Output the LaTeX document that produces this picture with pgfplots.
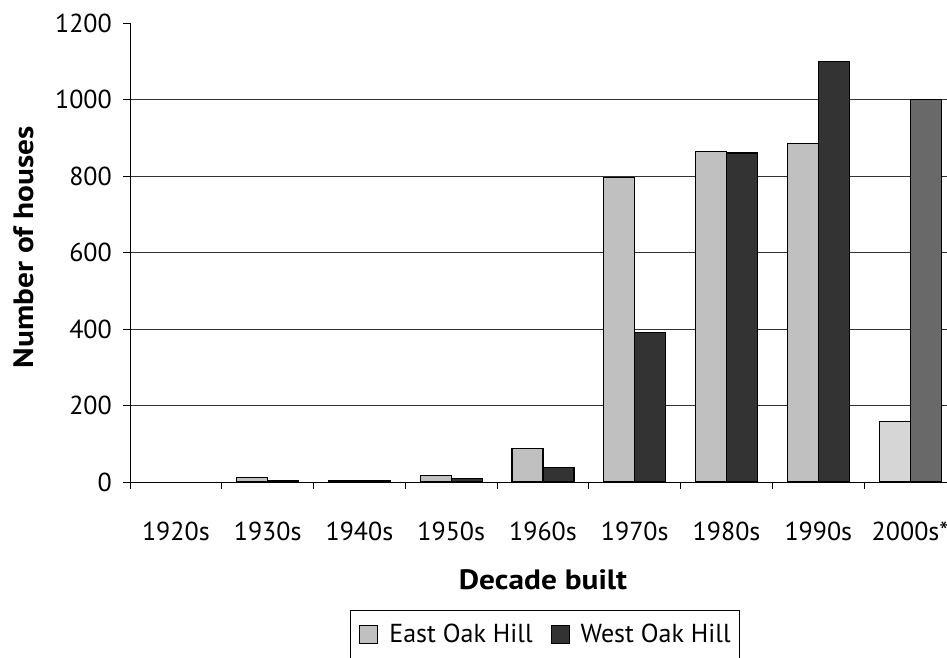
\documentclass[border=0pt]{standalone}
\usepackage{pgfplots}
\pgfplotsset{compat=1.18}
\usepackage{fontspec}
\setmainfont{PT Sans}
\newfontfamily\boldwide[FakeStretch=1.12]{PT Sans Bold}
\definecolor{eastc}{RGB}{192,192,192}
\definecolor{westc}{RGB}{51,51,51}
\definecolor{eastn}{RGB}{214,214,214}
\definecolor{westn}{RGB}{105,105,105}
\begin{document}
\begin{tikzpicture}[x=1pt,y=1pt]
\begin{axis}[
  at={(130pt,176pt)}, anchor=south west,
  scale only axis, width=826pt, height=459pt,
  xmin=-0.5, xmax=8.5, ymin=0, ymax=1200,
  axis x line*=bottom, axis y line*=left,
  axis line style={black, line width=0.8pt},
  ytick={0,200,...,1000},
  extra y ticks={1200}, extra y tick style={grid=none},
  ymajorgrids, major grid style={black!80, line width=0.7pt},
  tick align=outside, major tick length=7pt,
  tick style={black, line width=0.8pt},
  xtick={-0.5,0.5,...,8.5},
  x tick label as interval,
  xticklabels={1920s,1930s,1940s,1950s,1960s,1970s,1980s,1990s,2000s*},
  xticklabel style={anchor=base, yshift=-51pt},
  yticklabel style={anchor=east, inner sep=0pt, xshift=-11pt},
  tick label style={font=\fontsize{26}{30}\selectfont},
  /pgf/number format/assume math mode=true,
  /pgf/number format/1000 sep={},
  ybar=0pt, bar width=0.338,
  legend style={at={(0.2663,-0.2789)}, anchor=north west, draw=black,
    line width=0.8pt, font=\fontsize{26}{30}\selectfont,
    inner xsep=9pt, inner ysep=14pt,
    nodes={inner sep=0pt},
    /tikz/every odd column/.append style={column sep=11pt},
    /tikz/every even column/.append style={column sep=18pt}},
  legend columns=2,
  legend image code/.code={\draw[#1, draw=black, line width=1pt] (0pt,-9.5pt) rectangle (18pt,8.5pt);},
  legend cell align=left,
]
\addplot[fill=eastc, draw=black, line width=1.1pt, bar shift=-0.169] coordinates {
  (1,11) (2,4) (3,16) (4,88) (5,797) (6,865) (7,886)};
\addlegendentry{East Oak Hill}
\addplot[fill=westc, draw=black, line width=1.1pt, bar shift=0.169] coordinates {
  (1,5) (2,4) (3,10) (4,37) (5,390) (6,860) (7,1100)};
\addlegendentry{West Oak Hill}
\addplot[fill=eastn, draw=black, line width=1.1pt, bar shift=-0.169, forget plot] coordinates {(8,159)};
\addplot[fill=westn, draw=black, line width=1.1pt, bar shift=0.169, forget plot] coordinates {(8,1000)};
\end{axis}
\node[font=\boldwide\fontsize{28}{32}\selectfont] at (543pt,78pt) {Decade built};
\node[rotate=90, font=\boldwide\fontsize{28}{32}\selectfont] at (24pt,411pt) {Number of houses};
\pgfresetboundingbox
\useasboundingbox (0pt,0pt) rectangle (947pt,658pt);
\end{tikzpicture}
\end{document}
